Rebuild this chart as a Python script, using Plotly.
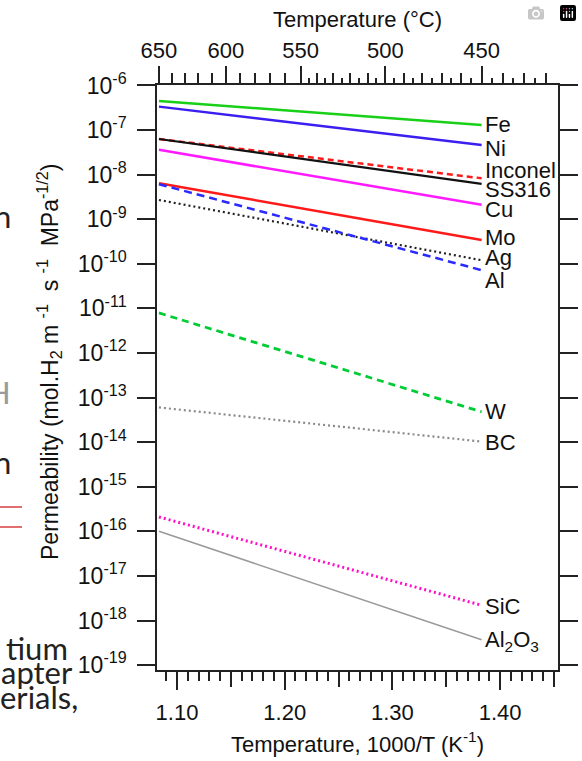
import math
import plotly.graph_objects as go

# ---------------- data ----------------
materials = ["Fe", "Ni", "Inconel", "SS316", "Cu", "Mo", "Ag", "Al", "W", "BC", "SiC", "Al2O3"]
label_text = ["Fe", "Ni", "Inconel", "SS316", "Cu", "Mo", "Ag", "Al", "W", "BC", "SiC",
              "Al<sub>2</sub>O<sub>3</sub>"]
temps_c = [650, 450]
perm_650 = [4.5e-7, 3.35e-7, 6.3e-8, 6.3e-8, 3.6e-8, 6.4e-9, 2.7e-9, 6.1e-9, 7.9e-12, 6.0e-14, 2.1e-16, 1.0e-16]
perm_450 = [1.3e-7, 4.6e-8, 8.3e-9, 6.2e-9, 2.1e-9, 3.4e-10, 1.2e-10, 7.2e-11, 4.8e-14, 1.03e-14, 2.2e-18, 3.7e-19]

top_major_c = [650, 600, 550, 500, 450]
top_mid_c = [640, 630, 620, 610, 590, 580, 570, 560, 540, 530, 520, 510, 490, 480, 470, 460, 440, 430, 420]
top_minor_c = [545, 535, 525, 515, 505, 495, 485, 475, 465, 455, 445, 435, 425]
bottom_ticks = [1.10, 1.20, 1.30, 1.40]
y_decades = list(range(-6, -20, -1))

# ---------------- styles ----------------
colors = ["#17d017", "#3a1ff0", "#ff1a1a", "#111111", "#ff1aff", "#ff1a1a",
          "#222222", "#2a2aff", "#00cc33", "#8a8a8a", "#ff10c8", "#9a9a9a"]
dashes = ["solid", "solid", "6px,4px", "solid", "solid", "solid",
          "2px,3px", "8px,5px", "7px,5px", "2px,3px", "2px,3px", "solid"]
widths = [2.5, 2.5, 2.5, 2.2, 2.5, 2.5, 2.2, 2.5, 2.8, 2.2, 3, 1.6]
label_yshift = [0, -3, 8, -6, -5, 3, 3, -10, 0, -1, -1, -1]

FONT = "Liberation Sans, Arial, sans-serif"
AX = "#222222"
TXT = "#111111"
NB = "\u00a0"

W, H = 582, 761
ML, MR, MT, MB = 157, 24, 85, 91
XR = [1.08143, 1.45376]
YR = [-19.11, -5.99]


def inv_t(tc):
    return 1000.0 / (tc + 273.15)


fig = go.Figure()
for i, m in enumerate(materials):
    fig.add_trace(go.Scatter(
        x=[inv_t(t) for t in temps_c],
        y=[perm_650[i], perm_450[i]],
        mode="lines", name=m, showlegend=False,
        line=dict(color=colors[i], width=widths[i], dash=dashes[i]),
        xaxis="x", yaxis="y",
    ))
# empty traces so the extra tick axes get drawn
for ax in ["x2", "x3", "x4"]:
    fig.add_trace(go.Scatter(x=[], y=[], xaxis=ax, yaxis="y", showlegend=False, hoverinfo="skip"))

pw, ph = W - ML - MR, H - MT - MB


def px_x(px):
    return (px - ML) / pw


def px_y(py):
    return (H - MB - py) / ph


annotations = []
for i, m in enumerate(materials):
    annotations.append(dict(
        x=inv_t(temps_c[-1]), y=math.log10(perm_450[i]), xref="x", yref="y",
        text=label_text[i], showarrow=False, xanchor="left", yanchor="middle",
        xshift=1, yshift=label_yshift[i],
        font=dict(family=FONT, size=22, color=TXT),
    ))

# y-axis title
annotations.append(dict(
    x=px_x(49), y=px_y(362), xref="paper", yref="paper", textangle=-90,
    text=("Permeability (mol.H<sub>2</sub> m" + NB + "<sup>-1</sup>" + NB + NB + "s" + NB
          + "<sup>-1</sup>" + NB + NB + "MPa<sup>-1/2</sup>)"),
    showarrow=False, xanchor="center", yanchor="middle",
    font=dict(family=FONT, size=23, color=TXT),
))

# fragments of the surrounding page (cropped document text on the left), right edge in px
fragments = [("n", 13, 216, "#222222"), ("H", 13, 392, "#9a9a9a"), ("n", 13, 462, "#222222"),
             ("tium", 70, 648, "#222222"), ("apter", 75, 672, "#222222"), ("erials,", 80, 697, "#222222")]
for txt, px, py, col in fragments:
    annotations.append(dict(
        x=px_x(px), y=px_y(py), xref="paper", yref="paper",
        text=txt, showarrow=False, xanchor="right", yanchor="middle",
        font=dict(family="Lato, Open Sans, sans-serif", size=31, color=col),
    ))

shapes = [
    dict(type="line", xref="paper", yref="paper", x0=px_x(0), x1=px_x(22), y0=px_y(507), y1=px_y(507),
         line=dict(color="#e07070", width=2)),
    dict(type="line", xref="paper", yref="paper", x0=px_x(0), x1=px_x(22), y0=px_y(527), y1=px_y(527),
         line=dict(color="#e07070", width=2)),
]

common_x = dict(range=XR, showgrid=False, zeroline=False, fixedrange=True, automargin=False)

fig.update_layout(
    width=W, height=H,
    margin=dict(l=ML, r=MR, t=MT, b=MB, pad=0, autoexpand=False),
    paper_bgcolor="white", plot_bgcolor="white",
    font=dict(family=FONT, color=TXT),
    annotations=annotations,
    shapes=shapes,
    xaxis=dict(
        **common_x, side="bottom", anchor="y",
        showline=True, linecolor=AX, linewidth=1.5,
        tickmode="array", tickvals=bottom_ticks, ticktext=[f"{v:.2f}" for v in bottom_ticks],
        ticks="outside", ticklen=18, tickwidth=1.5, tickcolor=AX, ticklabelstandoff=4,
        tickfont=dict(size=22, family=FONT, color=TXT),
        minor=dict(tickmode="linear", tick0=1.10, dtick=0.05, ticks="outside",
                   ticklen=15, tickwidth=1.5, tickcolor=AX),
        title=dict(text="Temperature, 1000/T (K<sup>-1</sup>)",
                   font=dict(size=22, family=FONT, color=TXT), standoff=12),
    ),
    xaxis4=dict(
        **common_x, overlaying="x", side="bottom", anchor="y",
        tickmode="linear", tick0=1.10, dtick=0.01, ticks="outside", ticklen=10,
        tickwidth=1.5, tickcolor=AX, showticklabels=False, showline=False,
    ),
    xaxis2=dict(
        **common_x, overlaying="x", side="top", anchor="y",
        showline=True, linecolor=AX, linewidth=1.5,
        tickmode="array", tickvals=[inv_t(t) for t in top_major_c], ticktext=[str(t) for t in top_major_c],
        ticks="outside", ticklen=17, tickwidth=1.5, tickcolor=AX, ticklabelstandoff=-1,
        tickfont=dict(size=22, family=FONT, color=TXT),
        minor=dict(tickmode="array", tickvals=[inv_t(t) for t in top_mid_c], ticks="outside",
                   ticklen=10, tickwidth=1.5, tickcolor=AX),
        title=dict(text="Temperature (°C)", font=dict(size=22, family=FONT, color=TXT), standoff=5),
    ),
    xaxis3=dict(
        **common_x, overlaying="x", side="top", anchor="y",
        tickmode="array", tickvals=[inv_t(t) for t in top_minor_c], ticks="outside", ticklen=6,
        tickwidth=1.5, tickcolor=AX, showticklabels=False, showline=False,
    ),
    yaxis=dict(
        type="log", range=YR, showgrid=False, zeroline=False, fixedrange=True, automargin=False,
        showline=True, linecolor=AX, linewidth=1.5, mirror="ticks",
        tickmode="array", tickvals=[10.0 ** d for d in y_decades],
        ticktext=[f"10<sup>{d}</sup>" for d in y_decades],
        ticks="outside", ticklen=18, tickwidth=1.5, tickcolor=AX, ticklabelstandoff=6,
        tickfont=dict(size=23, family=FONT, color=TXT),
    ),
)

fig.write_html("out.html", post_script="document.body.style.margin='0px';document.body.style.padding='0px';")
